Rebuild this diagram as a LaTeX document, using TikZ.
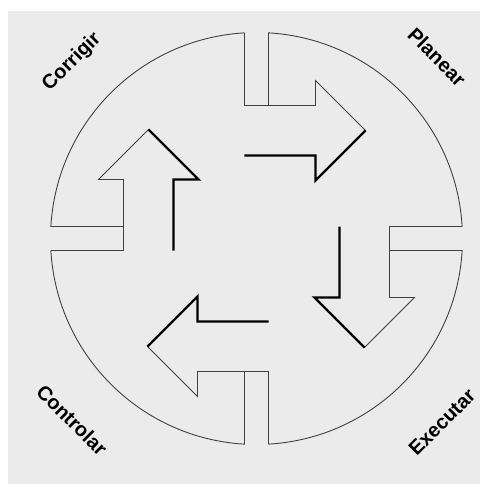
\documentclass[tikz,border=0pt]{standalone}
\usepackage{fontspec}
\setsansfont{Liberation Sans}
\usepackage{tikz}
\usepackage{xcolor}

\definecolor{paper}{HTML}{EBEBEB}
\definecolor{rim}{HTML}{404040}

\begin{document}
\begin{tikzpicture}[x=1pt, y=1pt,
    rimline/.style={rim, line width=0.9pt, line join=miter},
    shadeline/.style={black, line width=2.4pt, line join=miter},
    phase/.style={font=\sffamily\bfseries\fontsize{20}{24}\selectfont, inner sep=0pt}]
    % Page area (centre of the wheel at the origin)
    \useasboundingbox (-256.5, -251.5) rectangle (223.5, 238.5);
    \fill[white] (-256.5, -251.5) rectangle (223.5, 238.5);
    \fill[paper] (-248.5, -245.5) rectangle (223.5, 227.5);

    % Four quarters of the wheel, each with its gate and its arrow
    \foreach \a in {0, 90, 180, 270} {
        \begin{scope}[rotate=\a]
            % Outer arc from the gate round to the next gate
            \draw[rimline] (12, 133) -- (12, 205.65) arc[start angle=86.66, end angle=3.34, radius=206];
            % Other wall of the gate and the light side of the arrow
            \draw[rimline] (-12, 205.65) -- (-12, 133) -- (59, 133) -- (59, 158) -- (109, 108);
            % Dark side of the arrow
            \draw[shadeline] (109, 108) -- (59, 58) -- (59, 83) -- (-12, 83);
        \end{scope}
    }

    % Phase labels
    \node[phase, rotate=45] (corrigir) at (-184.5, 176.5) {Corrigir};
    \node[phase, rotate=-45] (planear) at (180.5, 181.5) {Planear};
    \node[phase, rotate=45] (executar) at (185.5, -183.5) {Executar};
    \node[phase, rotate=-45] (controlar) at (-184.5, -181.5) {Controlar};
\end{tikzpicture}
\end{document}
